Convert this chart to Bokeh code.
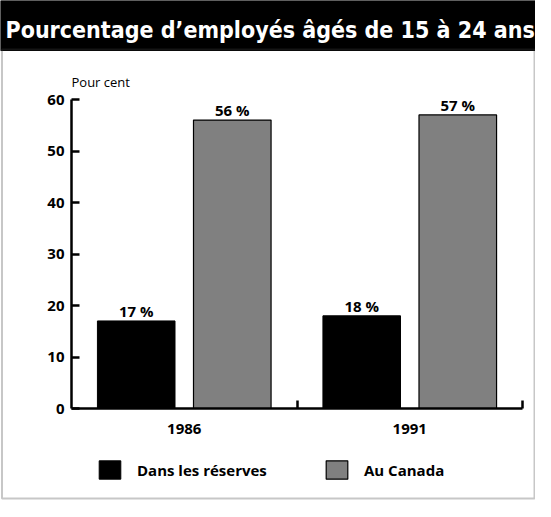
from bokeh.plotting import figure
from bokeh.models import (ColumnDataSource, Range1d, LinearAxis, FixedTicker, Legend,
                          LegendItem, Label, BoxAnnotation)
from bokeh.transform import dodge
from bokeh.embed import file_html
from bokeh.resources import INLINE
from bokeh.core.properties import value

# ---- data ----
title_text = "Pourcentage d’employés âgés de 15 à 24 ans"
unit_label = "Pour cent"
years = ["1986", "1991"]
reserves = [17, 18]
canada = [56, 57]
series_names = ["Dans les réserves", "Au Canada"]
y_ticks = [0, 10, 20, 30, 40, 50, 60]

FONT = "Open Sans"
TFONT = "DejaVu Sans Condensed, Roboto Condensed, Liberation Sans Narrow, sans-serif"
W, H = 535, 501

# category slots: each category occupies one unit on the x scale
centers = [i + 0.5 for i in range(len(years))]
edges = [i + 1.0 for i in range(len(years))]
n = len(years)

src = ColumnDataSource(dict(center=centers, reserves=reserves, canada=canada,
                            rlab=[f"{v} %" for v in reserves],
                            clab=[f"{v} %" for v in canada]))

# frame covers the whole canvas; axes are placed with fixed_location
X_START, X_END = -71 / 225.5, n + 13 / 225.5
Y_START, Y_END = -93 / 5.15, 408 / 5.15

p = figure(width=W, height=H, x_range=Range1d(X_START, X_END), y_range=Range1d(Y_START, Y_END),
           toolbar_location=None, output_backend="svg",
           x_axis_location=None, y_axis_location=None,
           min_border=0, min_border_left=0, min_border_right=0, min_border_top=0,
           min_border_bottom=0,
           outline_line_color=None, background_fill_color="white", border_fill_color="white")
p.grid.visible = False

# title bar and panel border (screen units: from frame's bottom-left, y upward)
p.add_layout(BoxAnnotation(left=0, right=W, bottom=H - 50, top=H,
                           left_units="screen", right_units="screen",
                           top_units="screen", bottom_units="screen",
                           fill_color="black", fill_alpha=1, line_color="black", line_alpha=1))
p.add_layout(BoxAnnotation(left=1.5, right=W - 1, bottom=3, top=H - 49,
                           left_units="screen", right_units="screen",
                           top_units="screen", bottom_units="screen",
                           fill_alpha=0, line_color="#444", line_width=2))
p.add_layout(Label(x=5, y=H - 29, x_units="screen", y_units="screen",
                   text=title_text, text_color="white",
                   text_font=TFONT, text_font_style="bold",
                   text_font_size="23px", text_baseline="alphabetic"))

yax = LinearAxis(fixed_location=0, ticker=FixedTicker(ticks=y_ticks), bounds=(0, 60),
                 axis_line_width=2.5, major_tick_in=8, major_tick_out=0,
                 major_tick_line_width=2.5, minor_tick_line_color=None,
                 major_label_standoff=7, major_label_text_font=FONT,
                 major_label_text_font_style="bold", major_label_text_font_size="15px",
                 major_label_text_color="black")
p.add_layout(yax, "left")

xax = LinearAxis(fixed_location=0, ticker=FixedTicker(ticks=centers, minor_ticks=edges),
                 bounds=(0, n), axis_line_width=2.5,
                 major_tick_in=0, major_tick_out=0, major_tick_line_color=None,
                 minor_tick_in=8, minor_tick_out=0, minor_tick_line_width=2.5,
                 minor_tick_line_color="black",
                 major_label_overrides={c: y for c, y in zip(centers, years)},
                 major_label_standoff=15,
                 major_label_text_font=FONT, major_label_text_font_style="bold",
                 major_label_text_font_size="15px", major_label_text_color="black")
p.add_layout(xax, "below")

r1 = p.vbar(x=dodge("center", -0.213), top="reserves", width=0.344,
            source=src, fill_color="black", line_color="black")
r2 = p.vbar(x=dodge("center", 0.213), top="canada", width=0.344,
            source=src, fill_color="#808080", line_color="black", line_width=1.2)

p.text(x=dodge("center", -0.213), y="reserves", text="rlab", source=src,
       text_align="center", text_baseline="alphabetic", y_offset=-10,
       text_font=value(FONT), text_font_size="15px", text_font_style="bold", text_color="black")
p.text(x=dodge("center", 0.213), y="canada", text="clab", source=src,
       text_align="center", text_baseline="alphabetic", y_offset=-10,
       text_font=value(FONT), text_font_size="15px", text_font_style="bold", text_color="black")

p.add_layout(Label(x=0, y=63.4, text=unit_label,
                   text_font=FONT, text_font_size="13px", text_color="black",
                   text_baseline="alphabetic"))

legend = Legend(items=[LegendItem(label=series_names[0], renderers=[r1]),
                       LegendItem(label=series_names[1], renderers=[r2])],
                orientation="horizontal", location=(96, 20),
                glyph_width=27, glyph_height=23, label_standoff=14, spacing=0,
                label_width=186, label_height=23, margin=0, padding=0,
                border_line_color=None, background_fill_alpha=0,
                label_text_font=FONT, label_text_font_style="bold",
                label_text_font_size="15px", label_text_color="black")
p.add_layout(legend, "center")

open("out.html", "w").write(file_html(p, INLINE))
